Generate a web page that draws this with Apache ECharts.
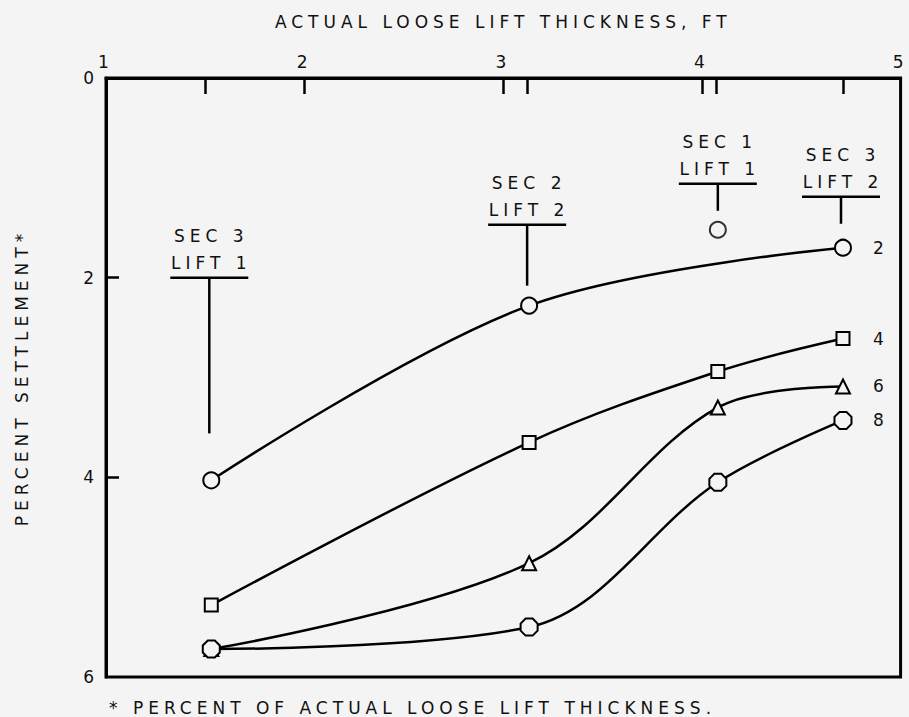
<!DOCTYPE html>
<html>
<head>
<meta charset="utf-8">
<script src="https://cdn.jsdelivr.net/npm/echarts@6.0.0/dist/echarts.min.js"></script>
<style>
  html, body { margin: 0; padding: 0; background: #f4f4f4; }
  #main { width: 909px; height: 717px; }
  /* old drafting lettering is widely spaced */
  #main text { letter-spacing: 5px; }
</style>
</head>
<body>
<div id="main"></div>
<script>
// lift thickness of each test lift, ft
var liftX = [1.53, 3.13, 4.08, 4.71];
// percent settlement after 2, 4, 6, 8 coverages
var pass2 = [4.03, 2.28, null, 1.70];
var pass4 = [5.28, 3.65, 2.94, 2.61];
var pass6 = [5.72, 4.86, 3.30, 3.09];
var pass8 = [5.72, 5.50, 4.05, 3.43];
// odd point, sec 1 lift 1 after 2 coverages
var oddX = [4.08];
var oddY = [1.52];

// T-shaped lift labels
var annoX = [1.52, 3.12, 4.08, 4.70];
var annoBarY = [2.0, 1.47, 1.06, 1.19];
var annoEndY = [3.56, 2.08, 1.33, 1.46];
var annoSec = ['SEC 3', 'SEC 2', 'SEC 1', 'SEC 3'];
var annoLift = ['LIFT 1', 'LIFT 2', 'LIFT 1', 'LIFT 2'];

var xLabels = [1, 2, 3, 4, 5];
var xTicks = [1.5, 2, 3, 3.12, 4, 4.07, 4.71];
var yTicks = [2, 4];

var font = 'DejaVu Sans';
var bg = '#f4f4f4';
var octagon = 'path://M0.293,0 L0.707,0 L1,0.293 L1,0.707 L0.707,1 L0.293,1 L0,0.707 L0,0.293 Z';

function pairs(ys) {
  var out = [];
  for (var i = 0; i < liftX.length; i++) {
    if (ys[i] != null) out.push([liftX[i], ys[i]]);
  }
  return out;
}

function lineSeries(name, ys, symbol, size) {
  return {
    name: name,
    type: 'line',
    smooth: 0.35,
    data: pairs(ys),
    symbol: symbol,
    symbolSize: size,
    showAllSymbol: true,
    lineStyle: { color: '#000', width: 2.5 },
    itemStyle: { color: bg, borderColor: '#000', borderWidth: 2 },
    endLabel: {
      show: true,
      formatter: name,
      distance: 30,
      color: '#111',
      fontFamily: font,
      fontSize: 17
    },
    z: 3
  };
}

var annoData = [];
for (var i = 0; i < annoX.length; i++) {
  annoData.push([annoX[i], annoBarY[i], annoEndY[i], i]);
}

var chart = echarts.init(document.getElementById('main'), null, { renderer: 'svg' });
chart.setOption({
  backgroundColor: bg,
  animation: false,
  title: {
    text: '* PERCENT OF ACTUAL LOOSE LIFT THICKNESS.',
    left: 104,
    top: 694,
    textStyle: { color: '#111', fontFamily: font, fontSize: 17, fontWeight: 'normal' }
  },
  grid: {
    left: 106,
    right: 7,
    top: 78,
    bottom: 40,
    show: true,
    borderColor: '#000',
    borderWidth: 3
  },
  xAxis: {
    type: 'value',
    position: 'top',
    min: 1,
    max: 5,
    interval: 1,
    name: 'ACTUAL LOOSE LIFT THICKNESS, FT',
    nameLocation: 'middle',
    nameGap: 48,
    nameTextStyle: { color: '#111', fontFamily: font, fontSize: 17 },
    axisLine: { show: true, lineStyle: { color: '#000', width: 3 } },
    axisTick: { show: true, inside: true, length: 16, customValues: xTicks, lineStyle: { color: '#000', width: 2.5 } },
    axisLabel: { customValues: xLabels, color: '#111', fontFamily: font, fontSize: 17, margin: 8 },
    splitLine: { show: false }
  },
  yAxis: {
    type: 'value',
    inverse: true,
    min: 0,
    max: 6,
    interval: 2,
    name: 'PERCENT SETTLEMENT*',
    nameLocation: 'middle',
    nameGap: 76,
    nameTextStyle: { color: '#111', fontFamily: font, fontSize: 17 },
    axisLine: { show: true, lineStyle: { color: '#000', width: 3 } },
    axisTick: { show: true, inside: true, length: 13, customValues: yTicks, lineStyle: { color: '#000', width: 2.5 } },
    axisLabel: { color: '#111', fontFamily: font, fontSize: 17, margin: 7 },
    splitLine: { show: false }
  },
  series: [
    lineSeries('2', pass2, 'circle', 16),
    lineSeries('4', pass4, 'rect', 13),
    lineSeries('6', pass6, 'triangle', 14),
    lineSeries('8', pass8, octagon, 17),
    {
      type: 'scatter',
      data: [[oddX[0], oddY[0]]],
      symbol: 'circle',
      symbolSize: 16,
      itemStyle: { color: bg, borderColor: '#000', borderWidth: 2 },
      z: 3
    },
    {
      // lift labels: bar, stem and two lines of text
      type: 'custom',
      data: annoData,
      z: 2,
      renderItem: function (params, api) {
        var top = api.coord([api.value(0), api.value(1)]);
        var bottom = api.coord([api.value(0), api.value(2)]);
        var k = api.value(3);
        var half = 39;
        var ls = { stroke: '#000', lineWidth: 2.5 };
        var ts = { fill: '#111', font: '17px "' + font + '"', align: 'center', verticalAlign: 'middle' };
        return {
          type: 'group',
          children: [
            { type: 'line', shape: { x1: top[0] - half, y1: top[1], x2: top[0] + half, y2: top[1] }, style: ls },
            { type: 'line', shape: { x1: top[0], y1: top[1], x2: bottom[0], y2: bottom[1] }, style: ls },
            { type: 'text', x: top[0] + 2, y: top[1] - 15, style: Object.assign({ text: annoLift[k] }, ts) },
            { type: 'text', x: top[0] + 2, y: top[1] - 42, style: Object.assign({ text: annoSec[k] }, ts) }
          ]
        };
      }
    }
  ]
});
</script>
</body>
</html>
